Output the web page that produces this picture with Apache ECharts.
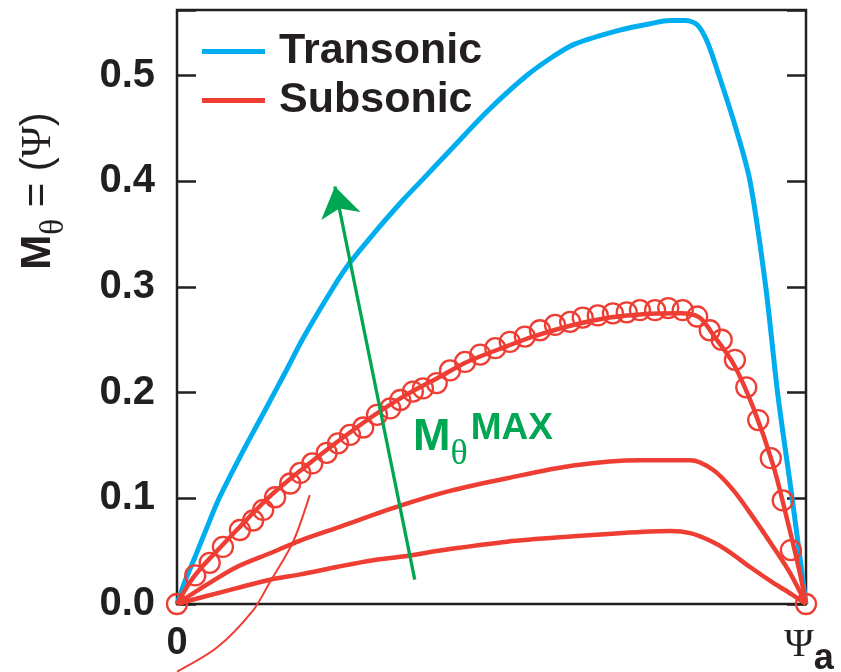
<!DOCTYPE html>
<html><head><meta charset="utf-8">
<script src="https://cdn.jsdelivr.net/npm/echarts@6/dist/echarts.min.js"></script>
<style>html,body{margin:0;padding:0;background:#fff}#c{width:841px;height:672px}</style>
</head><body><div id="c"></div>
<script>
// ---- data (x normalised: 0 .. Psi_a = 1) ----
const transonicX = [0, 0.013, 0.029, 0.048, 0.067, 0.100, 0.137, 0.172, 0.200, 0.248, 0.275, 0.315, 0.359, 0.391, 0.434, 0.493, 0.556, 0.598, 0.633, 0.704, 0.752, 0.784, 0.808, 0.827, 0.843, 0.860, 0.887, 0.911, 0.936, 0.955, 0.978, 1];
const transonicY = [0, 0.022, 0.045, 0.073, 0.100, 0.139, 0.180, 0.219, 0.251, 0.299, 0.323, 0.352, 0.382, 0.402, 0.429, 0.466, 0.500, 0.518, 0.530, 0.543, 0.549, 0.552, 0.552, 0.548, 0.532, 0.503, 0.453, 0.400, 0.300, 0.199, 0.100, 0];

const subsonicX = [0, 0.021, 0.041, 0.068, 0.095, 0.148, 0.200, 0.254, 0.307, 0.359, 0.418, 0.461, 0.525, 0.566, 0.630, 0.688, 0.736, 0.800, 0.831, 0.852, 0.884, 0.916, 0.948, 0.970, 0.990, 1];
const subsonicY = [0, 0.021, 0.036, 0.053, 0.070, 0.102, 0.128, 0.153, 0.176, 0.196, 0.215, 0.229, 0.244, 0.253, 0.264, 0.271, 0.274, 0.275, 0.271, 0.255, 0.228, 0.186, 0.131, 0.080, 0.030, 0];

const markerX = [0, 0.029, 0.052, 0.073, 0.100, 0.121, 0.137, 0.156, 0.180, 0.196, 0.215, 0.238, 0.256, 0.275, 0.296, 0.318, 0.339, 0.355, 0.375, 0.391, 0.413, 0.434, 0.458, 0.482, 0.506, 0.529, 0.553, 0.577, 0.601, 0.625, 0.645, 0.669, 0.693, 0.715, 0.736, 0.760, 0.781, 0.804, 0.827, 0.847, 0.866, 0.887, 0.905, 0.924, 0.944, 0.963, 0.976, 1];
const markerY = [0, 0.027, 0.039, 0.054, 0.070, 0.079, 0.089, 0.101, 0.114, 0.124, 0.133, 0.143, 0.152, 0.160, 0.167, 0.179, 0.185, 0.193, 0.201, 0.204, 0.209, 0.221, 0.229, 0.236, 0.242, 0.248, 0.253, 0.259, 0.264, 0.267, 0.271, 0.273, 0.275, 0.276, 0.278, 0.278, 0.280, 0.278, 0.272, 0.259, 0.250, 0.231, 0.205, 0.174, 0.138, 0.098, 0.051, 0];

const mid2X = [0, 0.041, 0.095, 0.148, 0.196, 0.254, 0.355, 0.434, 0.525, 0.630, 0.736, 0.816, 0.852, 0.884, 0.916, 0.948, 0.975, 1];
const mid2Y = [0, 0.016, 0.035, 0.048, 0.060, 0.072, 0.093, 0.107, 0.119, 0.131, 0.136, 0.136, 0.127, 0.108, 0.082, 0.054, 0.029, 0];

const low3X = [0, 0.041, 0.095, 0.148, 0.196, 0.254, 0.307, 0.359, 0.434, 0.525, 0.630, 0.704, 0.752, 0.784, 0.816, 0.847, 0.874, 0.911, 0.948, 0.979, 1];
const low3Y = [0, 0.0066, 0.015, 0.023, 0.028, 0.035, 0.041, 0.045, 0.052, 0.059, 0.064, 0.067, 0.0686, 0.069, 0.067, 0.060, 0.051, 0.035, 0.020, 0.0085, 0];

const arcX = [0, 0.064, 0.121, 0.148, 0.184, 0.211];
const arcY = [-0.064, -0.041, -0.006, 0.021, 0.058, 0.103];

const arrowFrom = [0.378, 0.023];
const arrowTo = [0.251, 0.395];

const xTickLabels = ['0', '{psi|Ψ}{sub|a}'];
const yTickLabels = ['0.0', '0.1', '0.2', '0.3', '0.4', '0.5'];
const seriesNames = ['Transonic', 'Subsonic'];

// ---- chart ----
const BLUE = '#00AEEF', RED = '#EE3E34', GREEN = '#00A651', INK = '#231F20';
const SANS = '"Liberation Sans", Arial, Helvetica, sans-serif';
const SERIF = '"Liberation Serif", "DejaVu Serif", serif';
const pairs = (xs, ys) => xs.map((x, i) => [x, ys[i]]);

const chart = echarts.init(document.getElementById('c'), null, {renderer: 'canvas'});

const yAxisBase = {
  type: 'value', min: 0, max: 0.562, interval: 0.1,
  axisLine: {show: false},
  splitLine: {show: false},
  axisTick: {show: true, inside: true, length: 19, lineStyle: {color: INK, width: 2.5}}
};

const option = {
  animation: false,
  backgroundColor: '#fff',
  grid: {left: 177, right: 35, top: 10, bottom: 68, show: true, borderColor: INK, borderWidth: 2.5,
         containLabel: false, outerBoundsMode: 'none'},
  legend: {
    orient: 'vertical', left: 202, top: 30, padding: 0, itemWidth: 63, itemHeight: 5, itemGap: 6,
    icon: 'rect', selectedMode: false, data: seriesNames,
    textStyle: {fontSize: 43, fontWeight: 'bold', color: INK, fontFamily: SANS, padding: [0, 0, 0, 9]}
  },
  xAxis: {
    type: 'value', min: 0, max: 1, interval: 1,
    axisLine: {show: false}, axisTick: {show: false}, splitLine: {show: false},
    axisLabel: {
      margin: 21, color: INK, fontFamily: SANS, fontWeight: 'bold', fontSize: 38,
      formatter: v => xTickLabels[Math.round(v)] ?? '',
      rich: {
        psi: {fontFamily: SERIF, fontWeight: 'normal', fontSize: 40, color: INK, verticalAlign: 'top', padding: [0, 0, 0, 6]},
        sub: {fontFamily: SANS, fontWeight: 'bold', fontSize: 36, color: INK, verticalAlign: 'top', padding: [16, 0, 0, 0]}
      }
    }
  },
  yAxis: [
    Object.assign({}, yAxisBase, {
      position: 'left',
      axisLabel: {
        margin: 22, color: INK, fontFamily: SANS, fontWeight: 'bold', fontSize: 40,
        formatter: v => { const i = Math.round(v * 10); return (Math.abs(v * 10 - i) < 1e-6 && i < yTickLabels.length) ? yTickLabels[i] : ''; }
      }
    }),
    Object.assign({}, yAxisBase, {position: 'right', axisLabel: {show: false}})
  ],
  graphic: [
    {
      type: 'text', x: 44, y: 191, rotation: Math.PI / 2, silent: true,
      style: {
        text: '{m|M}{th|θ}{eq| = (}{psi|Ψ}{eq|)}', align: 'center', verticalAlign: 'middle',
        rich: {
          m: {fontFamily: SANS, fontWeight: 'bold', fontSize: 42, fill: INK, verticalAlign: 'top'},
          th: {fontFamily: SERIF, fontSize: 33, fill: INK, verticalAlign: 'top', padding: [20, 0, 0, 0]},
          eq: {fontFamily: SANS, fontSize: 42, fill: INK, verticalAlign: 'top'},
          psi: {fontFamily: SERIF, fontSize: 42, fill: INK, verticalAlign: 'top'}
        }
      }
    },
    {
      type: 'text', x: 413, y: 410, silent: true, z: 20,
      style: {
        text: '{m|M}{th|θ}{sup|MAX}', align: 'left', verticalAlign: 'top',
        rich: {
          m: {fontFamily: SANS, fontWeight: 'bold', fontSize: 45, fill: GREEN, verticalAlign: 'top', padding: [5, 0, 0, 0]},
          th: {fontFamily: SERIF, fontSize: 36, fill: GREEN, verticalAlign: 'top', padding: [27, 0, 0, 0]},
          sup: {fontFamily: SANS, fontWeight: 'bold', fontSize: 37, fill: GREEN, verticalAlign: 'top', padding: [0, 0, 0, 3]}
        }
      }
    }
  ],
  series: [
    {name: 'Transonic', type: 'line', data: pairs(transonicX, transonicY), smooth: 0.3, showSymbol: false,
     color: BLUE, lineStyle: {color: BLUE, width: 5}, clip: false, z: 3},
    {name: 'Subsonic', type: 'line', data: pairs(subsonicX, subsonicY), smooth: 0.3, showSymbol: false,
     color: RED, lineStyle: {color: RED, width: 4.5}, clip: false, z: 4},
    {name: 'Subsonic points', type: 'scatter', data: pairs(markerX, markerY), symbol: 'circle', symbolSize: 20,
     itemStyle: {color: 'rgba(0,0,0,0)', borderColor: RED, borderWidth: 2.3, opacity: 1}, clip: false, z: 5},
    {name: 'Subsonic 2', type: 'line', data: pairs(mid2X, mid2Y), smooth: 0.3, showSymbol: false,
     color: RED, lineStyle: {color: RED, width: 4.5}, clip: false, z: 4},
    {name: 'Subsonic 3', type: 'line', data: pairs(low3X, low3Y), smooth: 0.3, showSymbol: false,
     color: RED, lineStyle: {color: RED, width: 4.5}, clip: false, z: 4},
    {name: 'Arc', type: 'line', data: pairs(arcX, arcY), smooth: 0.3, showSymbol: false,
     color: RED, lineStyle: {color: RED, width: 2}, clip: false, z: 4},
    {name: 'Arrow', type: 'lines', coordinateSystem: 'cartesian2d', xAxisIndex: 0, yAxisIndex: 0,
     data: [{coords: [arrowFrom, arrowTo]}], symbol: ['none', 'arrow'], symbolSize: 30, silent: true,
     lineStyle: {color: GREEN, width: 3.3, opacity: 1, curveness: 0}, z: 10}
  ]
};
chart.setOption(option);
</script>
</body></html>
